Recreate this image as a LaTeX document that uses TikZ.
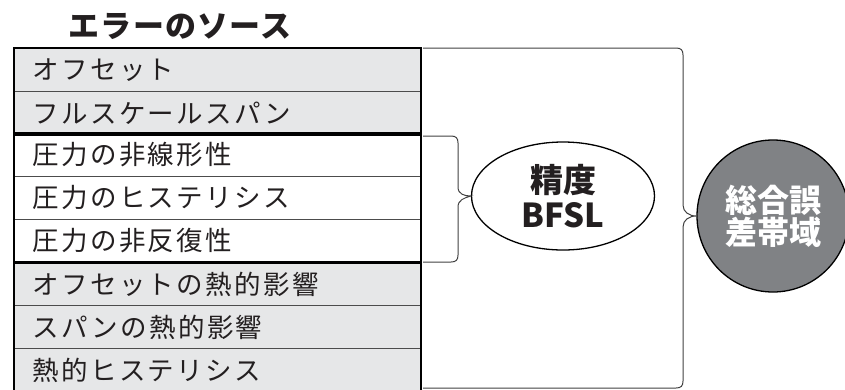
\documentclass[tikz,border=0pt]{standalone}
\usepackage{fontspec}
\setmainfont{Noto Sans CJK JP}
\usetikzlibrary{shapes.geometric}
\definecolor{lg}{HTML}{E6E7E8}
\definecolor{cg}{HTML}{808285}
\definecolor{ink}{HTML}{231F20}
\begin{document}
\begin{tikzpicture}[x=1pt,y=-1pt,
  rowbox/.style={anchor=north west, minimum width=403pt, minimum height=43pt,
    text width=370pt, inner xsep=18pt, inner ysep=0pt, align=left, draw=black!70, line width=0.8pt,
    text=ink, font=\fontsize{26.5}{26.5}\selectfont\addfontfeature{LetterSpace=9}},
  grpbox/.style={draw=black, line width=2.6pt},
  bracepath/.style={draw=black!75, line width=1pt},
]
\useasboundingbox (0,0) rectangle (845,389);
\clip (0,0) rectangle (845,389);
\node[text=ink, font=\fontsize{31}{31}\selectfont\bfseries\addfontfeature{LetterSpace=4}] (title) at (180,26) {エラーのソース};
\node[rowbox, fill=lg] (r1) at (14,48) {オフセット};
\node[rowbox, fill=lg] (r2) at (14,91) {フルスケールスパン};
\node[rowbox, fill=white] (r3) at (14,133) {圧力の非線形性};
\node[rowbox, fill=white] (r4) at (14,176) {圧力のヒステリシス};
\node[rowbox, fill=white] (r5) at (14,219) {圧力の非反復性};
\node[rowbox, fill=lg] (r6) at (14,262) {オフセットの熱的影響};
\node[rowbox, fill=lg] (r7) at (14,305) {スパンの熱的影響};
\node[rowbox, fill=lg] (r8) at (14,348) {熱的ヒステリシス};
\draw[grpbox] (r1.north west) rectangle (r2.south east);
\draw[grpbox] (r3.north west) rectangle (r5.south east);
\draw[grpbox] (r6.north west) rectangle (r8.south east);
\node[ellipse, draw=black, line width=1.3pt, minimum width=183pt, minimum height=108pt, inner sep=0pt,
  align=center, text=ink, font=\fontsize{33}{35}\selectfont\bfseries] (acc) at (563,196) {精度\\BFSL};
\node[circle, draw=black, line width=1.3pt, fill=cg, minimum size=152pt, inner sep=0pt,
  align=center, text=white, font=\fontsize{32}{32}\selectfont\bfseries] (tot) at (773,216) {総合誤\\差帯域};
\coordinate (sbt) at (423,136);
\coordinate (sbb) at (423,262);
\coordinate (bbt) at (423,48);
\coordinate (bbb) at (423,388);
\draw[bracepath] (sbt) -- (451,136) .. controls (456,136) and (458,138) .. (458,143) -- (458,187)
  .. controls (458,194) and (464,196) .. (acc.west)
  .. controls (464,198) and (458,200) .. (458,207) -- (458,255)
  .. controls (458,260) and (456,262) .. (451,262) -- (sbb);
\draw[bracepath] (bbt) -- (676,48) .. controls (681,48) and (683,50) .. (683,55) -- (683,205)
  .. controls (683,212) and (689,216) .. (tot.west)
  .. controls (689,216) and (683,220) .. (683,227) -- (683,381)
  .. controls (683,386) and (681,388) .. (676,388) -- (bbb);
\end{tikzpicture}
\end{document}
